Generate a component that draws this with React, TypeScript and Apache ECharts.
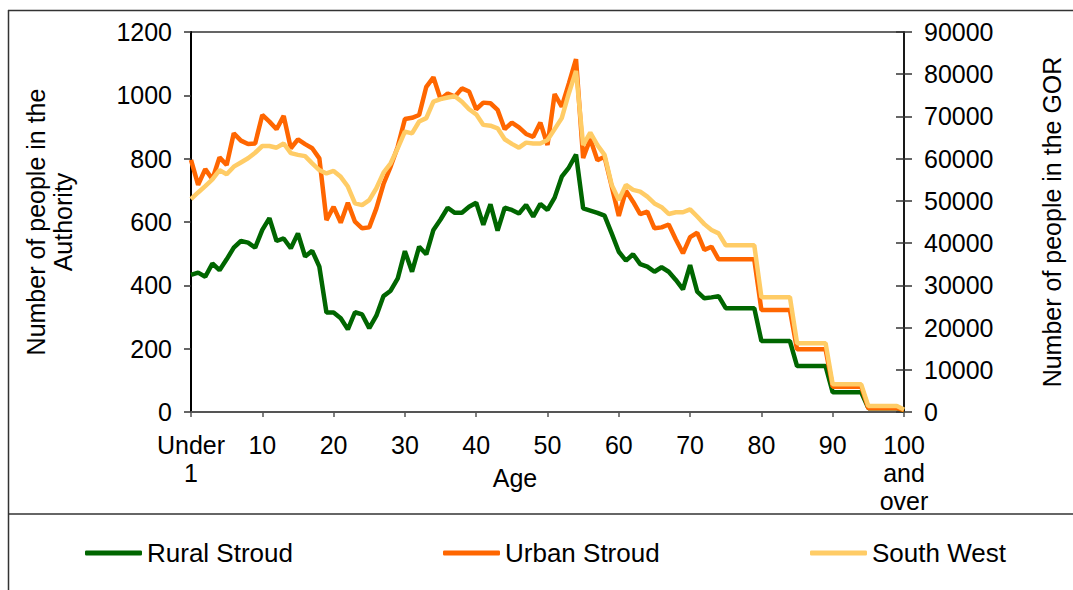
import React, { useEffect, useRef } from "react";
import * as echarts from "echarts";

const ageCategories: string[] = ["Under 1", ...Array.from({ length: 99 }, (_, i) => String(i + 1)), "100 and over"];

const ruralStroud: number[] = [
  433, 440, 427, 469, 448, 482, 519, 540, 535, 519,
  575, 612, 540, 548, 517, 564, 491, 509, 459, 314,
  314, 296, 261, 315, 308, 265, 304, 366, 383, 422,
  508, 443, 522, 498, 575, 608, 645, 629, 629, 648,
  661, 591, 656, 573, 645, 638, 627, 654, 617, 657,
  638, 677, 743, 772, 813, 643, 636, 629, 620, 564,
  506, 478, 498, 467, 459, 443, 457, 443, 417, 387,
  464, 380, 359, 362, 366, 328, 328, 328, 328, 328,
  224, 224, 224, 224, 224, 145, 145, 145, 145, 145,
  62, 62, 62, 62, 62, 12, 12, 12, 12, 12,
  5,
];

const urbanStroud: number[] = [
  796, 717, 767, 735, 804, 780, 880, 857, 846, 848,
  938, 917, 893, 935, 833, 861, 846, 833, 801, 606,
  648, 598, 661, 601, 580, 583, 643, 720, 775, 838,
  925, 929, 938, 1027, 1057, 988, 1006, 996, 1022, 1012,
  956, 977, 975, 954, 893, 914, 899, 878, 869, 914,
  843, 1004, 964, 1038, 1114, 802, 862, 795, 806, 713,
  619, 699, 664, 625, 633, 580, 583, 592, 545, 501,
  552, 566, 512, 522, 482, 482, 482, 482, 482, 482,
  322, 322, 322, 322, 322, 198, 198, 198, 198, 198,
  80, 80, 80, 80, 80, 12, 12, 12, 12, 12,
  6,
];

const southWest: number[] = [
  50400, 52000, 53500, 55100, 57300, 56300, 58100, 59100, 60100, 61400,
  63000, 63000, 62600, 63600, 61300, 60900, 60600, 58900, 57300, 56500,
  57100, 55700, 53400, 49400, 49000, 50200, 53000, 56700, 58900, 62500,
  66400, 66000, 68800, 69600, 73500, 74100, 74500, 74800, 73500, 71700,
  70500, 68000, 67800, 67200, 64600, 63500, 62600, 63800, 63600, 63600,
  64400, 67000, 69600, 75500, 80800, 63200, 66200, 63200, 60900, 53800,
  50200, 53800, 52600, 52200, 51000, 49400, 48500, 46900, 47300, 47300,
  48000, 46300, 44500, 43100, 42300, 39500, 39500, 39500, 39500, 39500,
  27200, 27200, 27200, 27200, 27200, 16300, 16300, 16300, 16300, 16300,
  6550, 6550, 6550, 6550, 6550, 1400, 1400, 1400, 1400, 1400,
  600,
];

const seriesNames = ["Rural Stroud", "Urban Stroud", "South West"];
const seriesColors = ["#006600", "#FF6600", "#FFCC66"];

const FONT = "'Liberation Sans', Arial, sans-serif";
const FS = 25;

export default function App() {
  const ref = useRef<HTMLDivElement>(null);
  useEffect(() => {
    if (!ref.current) return;
    const chart = echarts.init(ref.current, undefined, { renderer: "svg" });
    const textStyle = { color: "#000", fontFamily: FONT, fontSize: FS };
    const legendBase = {
      top: 540,
      padding: 0,
      itemWidth: 57,
      itemHeight: 5,
      icon: "roundRect",
      textStyle: { ...textStyle, fontSize: 26 },
    };
    const plain = (v: number) => String(v);
    chart.setOption({
      animation: false,
      textStyle: { fontFamily: FONT },
      grid: {
        left: 191,
        right: 168,
        top: 32,
        bottom: 178,
        show: true,
        borderColor: "#333",
        borderWidth: 1.5,
        backgroundColor: "transparent",
      },
      legend: [
        { ...legendBase, left: 85, data: [seriesNames[0]] },
        { ...legendBase, left: 443, data: [seriesNames[1]] },
        { ...legendBase, left: 810, data: [seriesNames[2]] },
      ],
      xAxis: {
        type: "category",
        data: ageCategories,
        boundaryGap: false,
        axisLine: { lineStyle: { color: "#555", width: 2 } },
        axisTick: { interval: 9, length: 5, lineStyle: { color: "#555", width: 1.5 } },
        axisLabel: {
          interval: 9,
          margin: 19,
          ...textStyle,
          lineHeight: 28,
          formatter: (v: string) => v.split(" ").join("\n"),
        },
        splitLine: { show: false },
      },
      yAxis: [
        {
          type: "value",
          position: "left",
          min: 0,
          max: 1200,
          interval: 200,
          name: "Number of people in the\nAuthority",
          nameLocation: "middle",
          nameRotate: 90,
          nameGap: 115,
          nameTextStyle: { ...textStyle, lineHeight: 27 },
          axisLine: { show: true, lineStyle: { color: "#000", width: 2 } },
          axisTick: { show: true, length: 7, lineStyle: { color: "#333", width: 1.5 } },
          axisLabel: { margin: 19, ...textStyle, formatter: plain },
          splitLine: { show: false },
        },
        {
          type: "value",
          position: "right",
          min: 0,
          max: 90000,
          interval: 10000,
          name: "Number of people in the GOR",
          nameLocation: "middle",
          nameRotate: 90,
          nameGap: 134,
          nameTextStyle: { ...textStyle, lineHeight: 27 },
          axisLine: { show: true, lineStyle: { color: "#000", width: 1.5 } },
          axisTick: { show: true, length: 8, lineStyle: { color: "#333", width: 1.5 } },
          axisLabel: { margin: 20, ...textStyle, formatter: plain },
          splitLine: { show: false },
        },
        {
          type: "value",
          position: "right",
          min: 0,
          max: 90000,
          interval: 10000,
          axisLine: { show: false },
          axisTick: { show: true, inside: true, length: 8, lineStyle: { color: "#333", width: 1.5 } },
          axisLabel: { show: false },
          splitLine: { show: false },
        },
      ],
      series: [
        {
          name: seriesNames[0],
          type: "line",
          yAxisIndex: 0,
          data: ruralStroud,
          symbol: "none",
          color: seriesColors[0],
          lineStyle: { width: 4.5, color: seriesColors[0] },
        },
        {
          name: seriesNames[1],
          type: "line",
          yAxisIndex: 0,
          data: urbanStroud,
          symbol: "none",
          color: seriesColors[1],
          lineStyle: { width: 4.5, color: seriesColors[1] },
        },
        {
          name: seriesNames[2],
          type: "line",
          yAxisIndex: 1,
          data: southWest,
          symbol: "none",
          color: seriesColors[2],
          lineStyle: { width: 4.5, color: seriesColors[2] },
        },
      ],
      graphic: [
        { type: "line", silent: true, shape: { x1: 8.5, y1: 10, x2: 8.5, y2: 590 }, style: { stroke: "#333", lineWidth: 1.5 } },
        { type: "line", silent: true, shape: { x1: 8, y1: 10.5, x2: 1073, y2: 10.5 }, style: { stroke: "#333", lineWidth: 1.5 } },
        { type: "line", silent: true, shape: { x1: 8, y1: 514, x2: 1073, y2: 514 }, style: { stroke: "#333", lineWidth: 1.5 } },
        {
          type: "text",
          silent: true,
          x: 515,
          y: 478,
          style: {
            text: "Age",
            fill: "#000",
            font: `${FS}px ${FONT}`,
            textAlign: "center",
            textVerticalAlign: "middle",
          },
        },
      ],
    });
    return () => chart.dispose();
  }, []);
  return <div ref={ref} style={{ position: "absolute", left: 0, top: 0, width: 1073, height: 590 }} />;
}
